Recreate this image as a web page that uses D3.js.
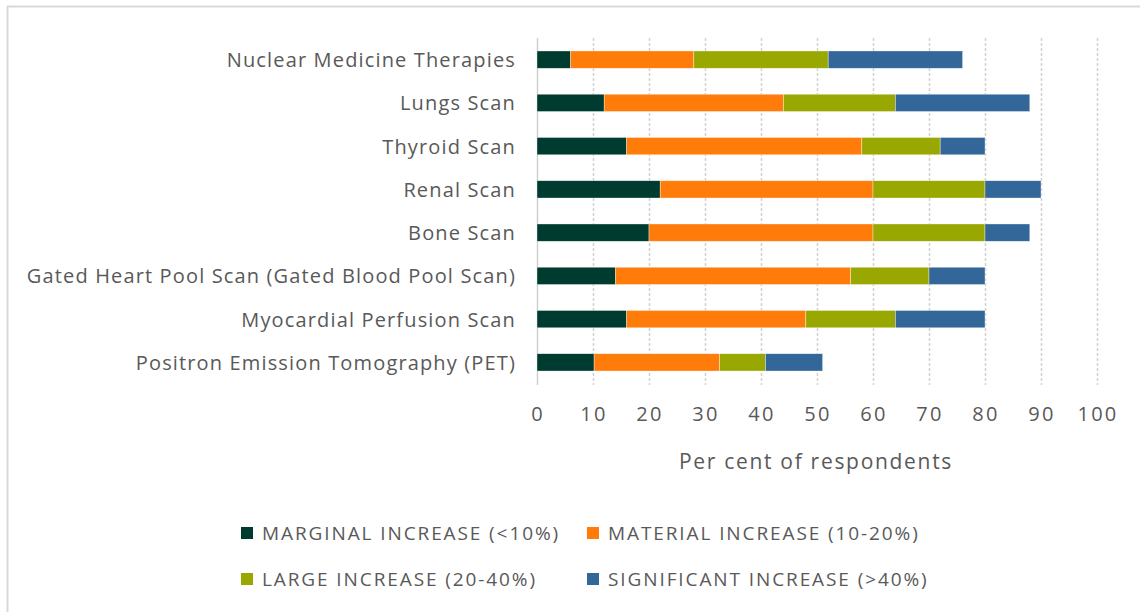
<!DOCTYPE html>
<html><head><meta charset="utf-8">
<script src="https://cdn.jsdelivr.net/npm/d3@7"></script>
<style>
html,body{margin:0;padding:0;background:#fff;}
svg{display:block;}
text{font-family:"Open Sans",sans-serif;fill:#595959;}
</style></head>
<body>
<svg id="chart" width="1140" height="612"></svg>
<script>
const categories = [
  "Nuclear Medicine Therapies",
  "Lungs Scan",
  "Thyroid Scan",
  "Renal Scan",
  "Bone Scan",
  "Gated Heart Pool Scan (Gated Blood Pool Scan)",
  "Myocardial Perfusion Scan",
  "Positron Emission Tomography (PET)"
];
const seriesNames = [
  "MARGINAL INCREASE (<10%)",
  "MATERIAL INCREASE (10-20%)",
  "LARGE INCREASE (20-40%)",
  "SIGNIFICANT INCREASE (>40%)"
];
const marginal    = [6, 12, 16, 22, 20, 14, 16, 10.2];
const material    = [22, 32, 42, 38, 40, 42, 32, 22.4];
const large       = [24, 20, 14, 20, 20, 14, 16, 8.2];
const significant = [24, 24, 8, 10, 8, 10, 16, 10.2];
const xTicks = [0, 10, 20, 30, 40, 50, 60, 70, 80, 90, 100];
const axisTitle = "Per cent of respondents";
const colors = ["#003B30", "#FF7C0A", "#99A800", "#336699"];

const seriesValues = [marginal, material, large, significant];
const rows = categories.map((c, i) => {
  const r = {category: c};
  seriesNames.forEach((s, k) => r[s] = seriesValues[k][i]);
  return r;
});
const stacked = d3.stack().keys(seriesNames)(rows);

const svg = d3.select("#chart");

// outer frame (top + left edge)
svg.append("line").attr("x1", 7).attr("x2", 1140).attr("y1", 6.5).attr("y2", 6.5)
  .attr("stroke", "#d9d9d9").attr("stroke-width", 2);
svg.append("line").attr("x1", 7.5).attr("x2", 7.5).attr("y1", 6).attr("y2", 612)
  .attr("stroke", "#d9d9d9").attr("stroke-width", 2);

const x = d3.scaleLinear().domain([0, 100]).range([537, 1097]);
const y = d3.scaleBand().domain(categories).range([38, 384]).paddingInner(0.6).paddingOuter(0.3);

// gridlines
svg.append("g").selectAll("line").data(xTicks).join("line")
  .attr("x1", d => x(d) + 0.5).attr("x2", d => x(d) + 0.5)
  .attr("y1", 38).attr("y2", 385)
  .attr("stroke", "#d0d0d0").attr("stroke-width", 1.5)
  .attr("stroke-dasharray", d => d === 0 ? null : "3,2");

// bars
svg.append("g").selectAll("g").data(stacked).join("g")
  .attr("fill", (d, i) => colors[i])
  .selectAll("rect").data(d => d).join("rect")
  .attr("x", d => x(d[0]))
  .attr("width", d => x(d[1]) - x(d[0]))
  .attr("y", d => y(d.data.category))
  .attr("height", y.bandwidth())
  .attr("stroke", "#ffffff").attr("stroke-opacity", 0.6).attr("stroke-width", 0.6);

// category labels
svg.append("g").selectAll("text").data(categories).join("text")
  .attr("x", 516).attr("y", d => y(d) + y.bandwidth() / 2)
  .attr("text-anchor", "end").attr("dominant-baseline", "central")
  .style("font-size", "20px").style("letter-spacing", "1.15px")
  .text(d => d);

// x tick labels
svg.append("g").selectAll("text").data(xTicks).join("text")
  .attr("x", d => x(d) + 1).attr("y", 413)
  .attr("text-anchor", "middle").attr("dominant-baseline", "central")
  .style("font-size", "20px").style("letter-spacing", "2.2px")
  .text(d => d);

// axis title
svg.append("text").attr("x", 816).attr("y", 461)
  .attr("text-anchor", "middle").attr("dominant-baseline", "central")
  .style("font-size", "21px").style("letter-spacing", "1.7px").text(axisTitle);

// legend
const legendPos = [[241, 533], [587, 533], [241, 579], [587, 579]];
const lg = svg.append("g").selectAll("g").data(seriesNames).join("g")
  .attr("transform", (d, i) => `translate(${legendPos[i][0]},${legendPos[i][1]})`);
lg.append("rect").attr("x", 0).attr("y", -6).attr("width", 12).attr("height", 12)
  .attr("fill", (d, i) => colors[i]);
lg.append("text").attr("x", 21).attr("y", 0).attr("dominant-baseline", "central")
  .style("font-size", "19px").style("letter-spacing", "1.9px").text(d => d);
</script>
</body></html>
